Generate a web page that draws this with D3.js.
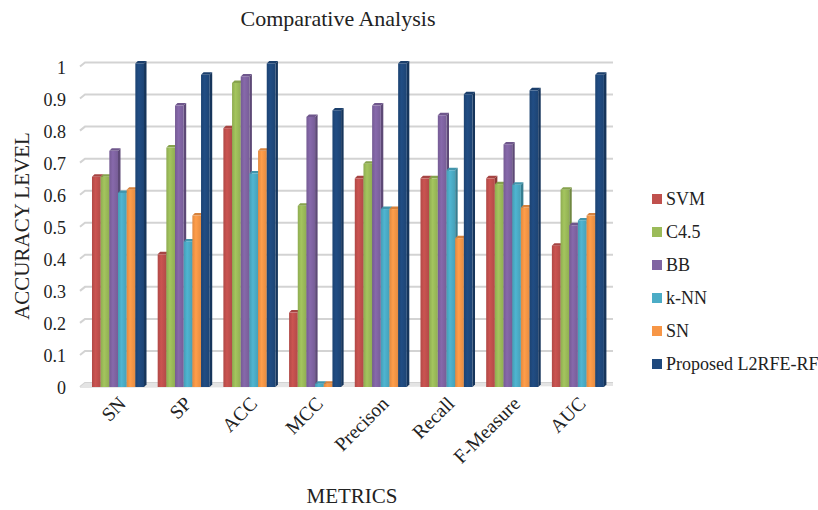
<!DOCTYPE html>
<html>
<head>
<meta charset="utf-8">
<script src="https://cdn.jsdelivr.net/npm/d3@7"></script>
<style>
  body { margin: 0; background: #fff; }
  svg text { font-family: "Liberation Serif", "Times New Roman", serif; fill: #222; }
</style>
</head>
<body>
<svg id="chart" width="818" height="510"></svg>
<script>
var categories = ["SN", "SP", "ACC", "MCC", "Precison", "Recall", "F-Measure", "AUC"];
var seriesNames = ["SVM", "C4.5", "BB", "k-NN", "SN", "Proposed L2RFE-RF"];
var seriesColors = ["#c0504d", "#9bbb59", "#8064a2", "#4bacc6", "#f79646", "#1f497d"];
var svmValues = [0.65, 0.41, 0.80, 0.23, 0.645, 0.645, 0.645, 0.437];
var c45Values = [0.65, 0.74, 0.94, 0.56, 0.69, 0.645, 0.627, 0.61];
var bbValues = [0.73, 0.87, 0.96, 0.835, 0.87, 0.84, 0.75, 0.50];
var knnValues = [0.60, 0.45, 0.66, 0.01, 0.55, 0.67, 0.625, 0.515];
var snValues = [0.61, 0.53, 0.73, 0.01, 0.55, 0.46, 0.555, 0.53];
var proposedValues = [1.0, 0.965, 1.0, 0.855, 1.0, 0.905, 0.917, 0.965];
var yTicks = [0, 0.1, 0.2, 0.3, 0.4, 0.5, 0.6, 0.7, 0.8, 0.9, 1];

var allSeries = [svmValues, c45Values, bbValues, knnValues, snValues, proposedValues];

var svg = d3.select("#chart");
var wallDx = 5, wallDy = 4;   // depth of the back wall
var barD = 2.5;               // depth of each bar

var x = d3.scaleBand().domain(categories).range([86.4, 612]).paddingInner(0.17).paddingOuter(0.085);
var y = d3.scaleLinear().domain([0, 1]).range([387, 66.5]);      // axis / wall
var yBar = d3.scaleLinear().domain([0, 1]).range([387, 63.5]);   // bar fronts
var xSub = d3.scaleBand().domain(d3.range(seriesNames.length)).range([0, x.bandwidth() - barD]);

// gradients
var defs = svg.append("defs");
seriesColors.forEach(function(c, i) {
  var g = defs.append("linearGradient").attr("id", "grad" + i)
    .attr("x1", "0%").attr("x2", "100%").attr("y1", "0%").attr("y2", "0%");
  g.append("stop").attr("offset", "0%").attr("stop-color", d3.color(c).darker(0.25));
  g.append("stop").attr("offset", "40%").attr("stop-color", d3.color(c).brighter(0.15));
  g.append("stop").attr("offset", "100%").attr("stop-color", d3.color(c).darker(0.2));
});

// back wall gridlines
var grid = svg.append("g");
yTicks.forEach(function(t) {
  var yy = y(t);
  grid.append("path")
    .attr("d", "M" + (80) + "," + yy + "L" + (80 + wallDx) + "," + (yy - wallDy) + "L613," + (yy - wallDy))
    .attr("fill", "none")
    .attr("stroke", "#d3d3d3")
    .attr("stroke-width", 2);
});
// floor
svg.append("path")
  .attr("d", "M80," + y(0) + "L85," + (y(0) - wallDy) + "L613," + (y(0) - wallDy) + "L613," + (y(0) - 1) + "L" + 80 + "," + (y(0) + 1) + "Z")
  .attr("fill", "#e4e4e4");

// y tick labels
svg.append("g").selectAll("text")
  .data(yTicks).enter().append("text")
  .attr("x", 66)
  .attr("y", function(d) { return y(d) + 1; })
  .attr("dy", "0.35em")
  .attr("text-anchor", "end")
  .style("font-size", "18px")
  .text(function(d) { return d3.format("")(d); });

// bars
var bars = svg.append("g");
categories.forEach(function(cat, ci) {
  allSeries.forEach(function(vals, si) {
    var v = vals[ci];
    var x0 = x(cat) + xSub(si);
    var fw = xSub.bandwidth();
    var yt = yBar(v), yb = yBar(0);
    var col = seriesColors[si];
    var g = bars.append("g");
    g.append("path")
      .attr("d", "M" + (x0 + fw) + "," + yt + "L" + (x0 + fw + barD) + "," + (yt - barD) +
        "L" + (x0 + fw + barD) + "," + (yb - barD) + "L" + (x0 + fw) + "," + yb + "Z")
      .attr("fill", d3.color(col).darker(0.9));
    g.append("path")
      .attr("d", "M" + x0 + "," + yt + "L" + (x0 + barD) + "," + (yt - barD) +
        "L" + (x0 + fw + barD) + "," + (yt - barD) + "L" + (x0 + fw) + "," + yt + "Z")
      .attr("fill", d3.color(col).darker(0.4));
    g.append("rect")
      .attr("x", x0).attr("y", yt)
      .attr("width", fw).attr("height", yb - yt)
      .attr("fill", "url(#grad" + si + ")");
  });
});

// x labels
svg.append("g").selectAll("text")
  .data(categories).enter().append("text")
  .attr("transform", function(d) { return "translate(" + (x(d) + x.bandwidth() / 2 + 3) + ",400) rotate(-45)"; })
  .attr("text-anchor", "end")
  .attr("dy", "0.35em")
  .style("font-size", "19.5px")
  .text(function(d) { return d; });

// titles
svg.append("text").attr("x", 338).attr("y", 26).attr("text-anchor", "middle")
  .style("font-size", "22px").text("Comparative Analysis");
svg.append("text").attr("x", 352).attr("y", 503).attr("text-anchor", "middle")
  .style("font-size", "21px").text("METRICS");
svg.append("text").attr("transform", "translate(29,226) rotate(-90)").attr("text-anchor", "middle")
  .style("font-size", "21px").text("ACCURACY LEVEL");

// legend
var legend = svg.append("g").selectAll("g")
  .data(seriesNames).enter().append("g")
  .attr("transform", function(d, i) { return "translate(652," + (194 + i * 33) + ")"; });
legend.append("rect").attr("width", 10).attr("height", 10)
  .attr("fill", function(d, i) { return seriesColors[i]; });
legend.append("text").attr("x", 14).attr("y", 11)
  .style("font-size", "18px").text(function(d) { return d; });
</script>
</body>
</html>
